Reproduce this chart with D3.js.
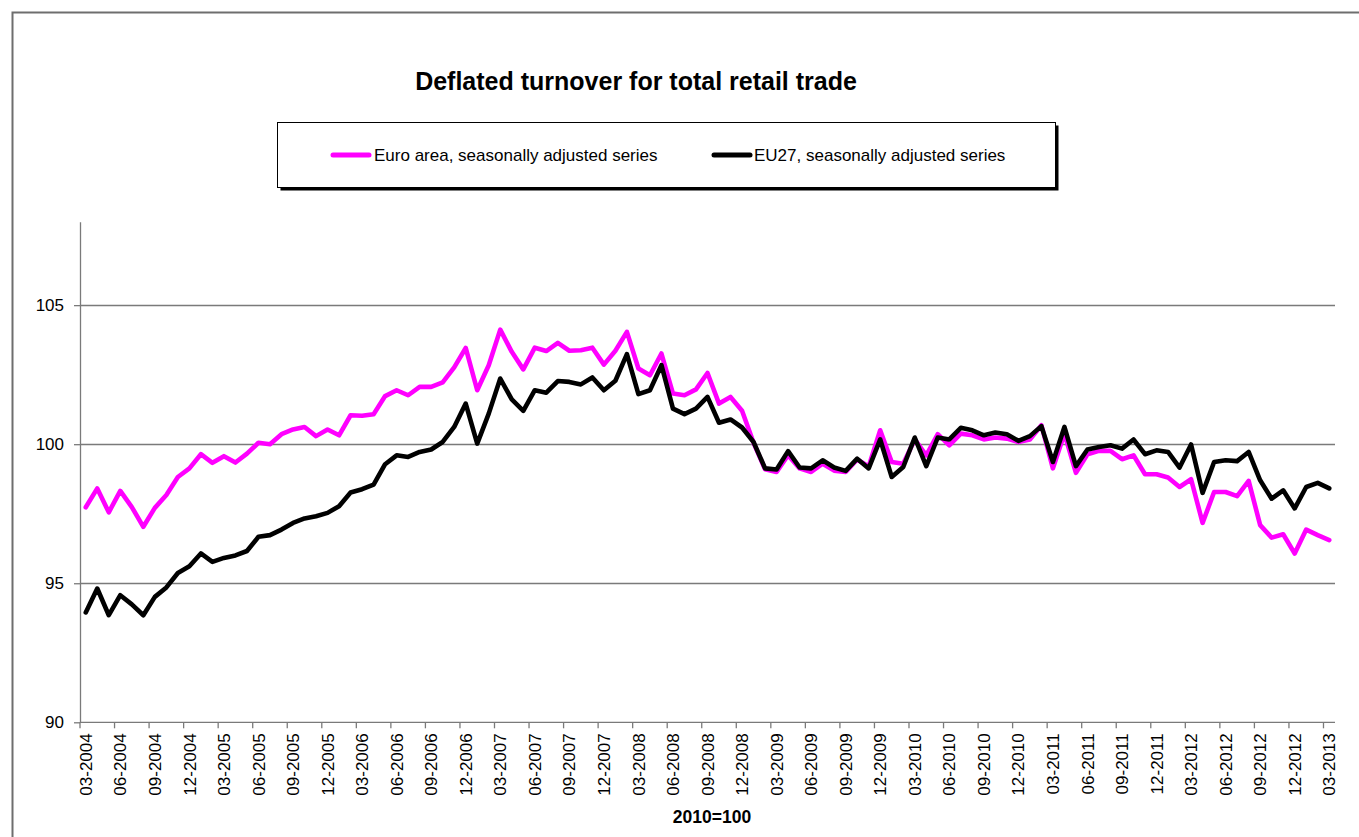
<!DOCTYPE html>
<html>
<head>
<meta charset="utf-8">
<script src="https://cdn.jsdelivr.net/npm/d3@7"></script>
<style>
  body { margin: 0; background: #fff; }
  svg { display: block; font-family: Arial, "Liberation Sans", sans-serif; }
</style>
</head>
<body>
<script>
// months 03-2004 .. 03-2013
var categories = [];
for (var yr = 2004; yr <= 2013; yr++) {
  for (var m = 1; m <= 12; m++) {
    if ((yr === 2004 && m < 3) || (yr === 2013 && m > 3)) continue;
    categories.push((m < 10 ? "0" + m : "" + m) + "-" + yr);
  }
}

var tickLabels = categories.filter(function(d, i) { return i % 3 === 0; });
var yTicks = [90, 95, 100, 105];

var euroArea = [
  97.73, 98.41, 97.55, 98.32, 97.74, 97.03, 97.71, 98.17, 98.82, 99.13,
  99.64, 99.33, 99.57, 99.34, 99.66, 100.05, 100.0, 100.36, 100.53, 100.62,
  100.29, 100.53, 100.32, 101.04, 101.02, 101.08, 101.73, 101.94, 101.76, 102.06,
  102.06, 102.22, 102.76, 103.46, 101.94, 102.84, 104.12, 103.32, 102.69, 103.47,
  103.35, 103.64, 103.36, 103.38, 103.47, 102.86, 103.36, 104.04, 102.72, 102.48,
  103.26, 101.82, 101.76, 101.97, 102.56, 101.46, 101.7, 101.2, 100.05, 99.1,
  99.0, 99.6, 99.13, 99.0, 99.3, 99.05, 99.0, 99.45, 99.2, 100.5,
  99.36, 99.3, 100.17, 99.6, 100.36, 99.96, 100.38, 100.32, 100.17, 100.24,
  100.2, 100.08, 100.17, 100.68, 99.13, 100.38, 98.97, 99.64, 99.76, 99.76,
  99.46, 99.6, 98.92, 98.92, 98.8, 98.46, 98.74, 97.17, 98.28, 98.28,
  98.13, 98.68, 97.09, 96.64, 96.76, 96.07, 96.93, 96.73, 96.55
];

var eu27 = [
  93.95, 94.81, 93.85, 94.57, 94.24, 93.85, 94.51, 94.85, 95.37, 95.61,
  96.07, 95.77, 95.91, 96.0, 96.16, 96.67, 96.73, 96.93, 97.17, 97.33,
  97.41, 97.53, 97.77, 98.26, 98.38, 98.55, 99.28, 99.6, 99.54, 99.72,
  99.81, 100.08, 100.62, 101.46, 100.02, 101.1, 102.36, 101.61, 101.2, 101.94,
  101.85, 102.27, 102.24, 102.15, 102.4, 101.94, 102.28, 103.24, 101.8, 101.94,
  102.84, 101.28, 101.08, 101.28, 101.7, 100.77, 100.89, 100.6, 100.08, 99.13,
  99.09, 99.75, 99.16, 99.13, 99.42, 99.16, 99.04, 99.48, 99.13, 100.17,
  98.82, 99.18, 100.24, 99.21, 100.24, 100.17, 100.59, 100.5, 100.32, 100.42,
  100.36, 100.12, 100.29, 100.65, 99.36, 100.62, 99.21, 99.81, 99.9, 99.96,
  99.84, 100.17, 99.64, 99.78, 99.72, 99.16, 99.99, 98.25, 99.36, 99.42,
  99.39, 99.72, 98.7, 98.04, 98.34, 97.69, 98.46, 98.61, 98.41
];

var seriesNames = ["Euro area, seasonally adjusted series", "EU27, seasonally adjusted series"];
var seriesColors = ["#ff00ff", "#000000"];

var W = 1359, H = 837;
var plotLeft = 80, plotRight = 1335, plotTop = 221.7, plotBottom = 722.3;

var svg = d3.select("body").append("svg")
  .attr("width", W)
  .attr("height", H);

// outer chart frame
svg.append("rect")
  .attr("x", 12.5).attr("y", 12.5)
  .attr("width", 1400).attr("height", 900)
  .attr("fill", "none")
  .attr("stroke", "#6e6e6e")
  .attr("stroke-width", 2);

var x = d3.scaleBand().domain(categories).range([plotLeft, plotRight]).padding(0);
var y = d3.scaleLinear().domain([90, 108]).range([plotBottom, plotTop]);
var cx = function(d) { return x(d) + x.bandwidth() / 2; };

// gridlines
svg.append("g").selectAll("line")
  .data(yTicks.filter(function(d) { return d > 90; }))
  .enter().append("line")
  .attr("x1", plotLeft).attr("x2", plotRight)
  .attr("y1", function(d) { return Math.round(y(d)) + 0.5; })
  .attr("y2", function(d) { return Math.round(y(d)) + 0.5; })
  .attr("stroke", "#7a7a7a")
  .attr("stroke-width", 1.3);

// y axis
var yAxis = d3.axisLeft(y).tickValues(yTicks).tickSize(6).tickSizeOuter(0).tickPadding(10);
var gy = svg.append("g")
  .attr("transform", "translate(" + plotLeft + ",0)")
  .call(yAxis);
gy.select(".domain").attr("stroke", "#7a7a7a").attr("stroke-width", 1.3);
gy.selectAll(".tick line").attr("stroke", "#7a7a7a").attr("stroke-width", 1.3);
gy.selectAll("text").attr("font-size", 17).attr("fill", "#000")
  .attr("font-family", "Arial, 'Liberation Sans', sans-serif");

// x axis: labels at category centres, tick marks at category boundaries
var xAxis = d3.axisBottom(x).tickValues(tickLabels).tickSize(0).tickPadding(0);
var gx = svg.append("g")
  .attr("transform", "translate(0," + plotBottom + ")")
  .call(xAxis);
gx.select(".domain").remove();
gx.selectAll("text")
  .attr("font-size", 17)
  .attr("fill", "#000")
  .attr("font-family", "Arial, 'Liberation Sans', sans-serif")
  .attr("text-anchor", "end")
  .attr("transform", "rotate(-90)")
  .attr("x", -11)
  .attr("y", 0)
  .attr("dy", "0.36em");

svg.append("line")
  .attr("x1", plotLeft).attr("x2", plotRight)
  .attr("y1", plotBottom).attr("y2", plotBottom)
  .attr("stroke", "#7a7a7a").attr("stroke-width", 1.3);

svg.append("g").selectAll("line")
  .data(tickLabels)
  .enter().append("line")
  .attr("x1", function(d) { return x(d); })
  .attr("x2", function(d) { return x(d); })
  .attr("y1", plotBottom).attr("y2", plotBottom + 6)
  .attr("stroke", "#7a7a7a").attr("stroke-width", 1.3);

// lines
var line = d3.line()
  .x(function(d, i) { return cx(categories[i]); })
  .y(function(d) { return y(d); });

[euroArea, eu27].forEach(function(s, k) {
  svg.append("path")
    .datum(s)
    .attr("d", line)
    .attr("fill", "none")
    .attr("stroke", seriesColors[k])
    .attr("stroke-width", 4.6)
    .attr("stroke-linejoin", "round")
    .attr("stroke-linecap", "round");
});

// title
svg.append("text")
  .attr("x", 636).attr("y", 90)
  .attr("text-anchor", "middle")
  .attr("font-size", 25)
  .attr("font-weight", "bold")
  .text("Deflated turnover for total retail trade");

// axis caption
svg.append("text")
  .attr("x", 712).attr("y", 823)
  .attr("text-anchor", "middle")
  .attr("font-size", 17.5)
  .attr("font-weight", "bold")
  .text("2010=100");

// legend
var lg = svg.append("g");
lg.append("rect")
  .attr("x", 280.5).attr("y", 125.5)
  .attr("width", 778).attr("height", 65)
  .attr("fill", "#000");
lg.append("rect")
  .attr("x", 277.5).attr("y", 122.5)
  .attr("width", 778).attr("height", 65)
  .attr("fill", "#fff")
  .attr("stroke", "#000")
  .attr("stroke-width", 1);

var legendX = [[333, 369, 374], [714, 750, 754]];
seriesNames.forEach(function(name, k) {
  lg.append("line")
    .attr("x1", legendX[k][0]).attr("x2", legendX[k][1])
    .attr("y1", 155).attr("y2", 155)
    .attr("stroke", seriesColors[k])
    .attr("stroke-width", 5)
    .attr("stroke-linecap", "round");
  lg.append("text")
    .attr("x", legendX[k][2]).attr("y", 161)
    .attr("font-size", 17)
    .text(name);
});
</script>
</body>
</html>
